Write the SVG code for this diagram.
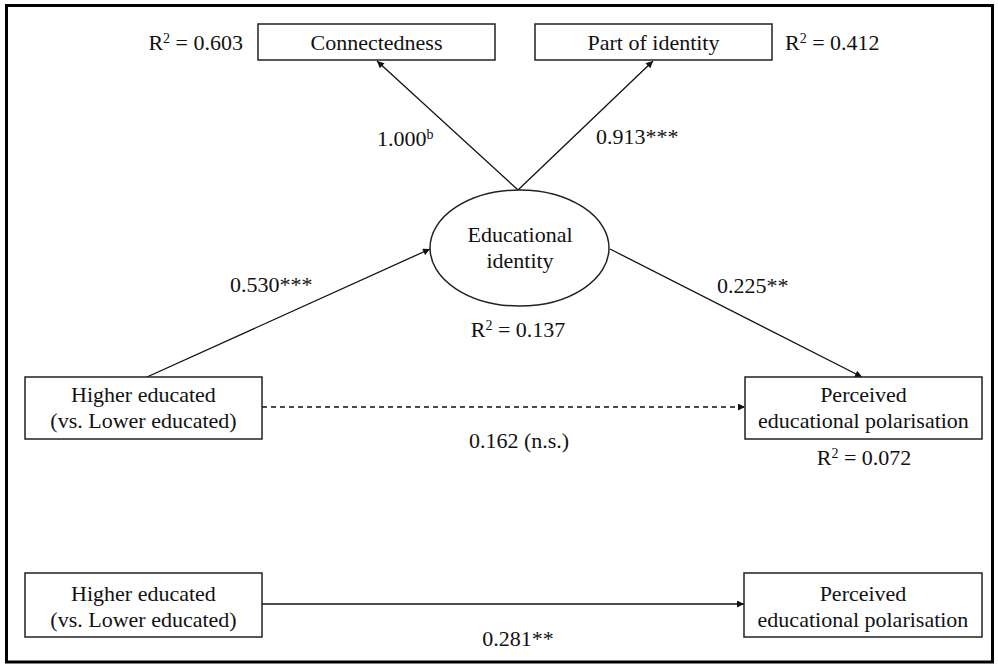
<svg xmlns="http://www.w3.org/2000/svg" width="998" height="664" viewBox="0 0 998 664">
<defs>
<style>
text{font-family:"Liberation Serif","Times New Roman",serif;font-size:22px;fill:#111}
.m{text-anchor:middle}
.e{text-anchor:end}
.sup{font-size:14px}
.box{fill:#fff;stroke:#222;stroke-width:1.5}
.c{stroke:#111;stroke-width:1.3;fill:none;marker-end:url(#ah)}
.d{stroke-dasharray:5,4}
</style>
<marker id="ah" viewBox="0 0 10 10" refX="10" refY="5" markerWidth="9" markerHeight="7" markerUnits="userSpaceOnUse" orient="auto">
<path d="M0,0 L10,5 L0,10 Z" fill="#111"/>
</marker>
</defs>
<rect x="0" y="0" width="998" height="664" fill="#fff"/>
<rect x="6.5" y="5.5" width="986" height="656.5" fill="none" stroke="#000" stroke-width="3"/>

<g id="connectors">
<line class="c" x1="518" y1="190" x2="377" y2="61"/>
<line class="c" x1="518" y1="190" x2="653" y2="61"/>
<line class="c" x1="147" y1="377" x2="430" y2="249"/>
<line class="c" x1="610" y1="249" x2="862" y2="377"/>
<line class="c d" x1="262" y1="407" x2="745" y2="407"/>
<line class="c" x1="262" y1="604" x2="744" y2="604"/>
</g>

<g id="labels">
<text x="377" y="146">1.000<tspan class="sup" dy="-7">b</tspan></text>
<text x="596" y="144">0.913***</text>
<text x="230" y="292">0.530***</text>
<text x="717" y="293">0.225**</text>
<text class="m" x="519" y="448">0.162 (n.s.)</text>
<text class="m" x="518" y="646">0.281**</text>
</g>

<g id="connectedness">
<rect class="box" x="258" y="24" width="237" height="36"/>
<text class="m" x="376.5" y="50">Connectedness</text>
<text class="e" x="243" y="50">R<tspan class="sup" dy="-7">2</tspan><tspan dy="7"> = 0.603</tspan></text>
</g>

<g id="part-of-identity">
<rect class="box" x="535" y="24" width="237" height="36"/>
<text class="m" x="653.5" y="50">Part of identity</text>
<text x="785" y="50">R<tspan class="sup" dy="-7">2</tspan><tspan dy="7"> = 0.412</tspan></text>
</g>

<g id="educational-identity">
<ellipse cx="519.5" cy="248" rx="89.5" ry="58" fill="#fff" stroke="#222" stroke-width="1.5"/>
<text class="m" x="520" y="242">Educational</text>
<text class="m" x="520" y="268">identity</text>
<text class="m" x="518" y="337">R<tspan class="sup" dy="-7">2</tspan><tspan dy="7"> = 0.137</tspan></text>
</g>

<g id="higher-educated">
<rect class="box" x="25" y="377" width="237" height="62"/>
<text class="m" x="143.5" y="402">Higher educated</text>
<text class="m" x="143.5" y="428">(vs. Lower educated)</text>
</g>

<g id="perceived-polarisation">
<rect class="box" x="745" y="377" width="237" height="62"/>
<text class="m" x="863.5" y="402">Perceived</text>
<text class="m" x="863.5" y="428">educational polarisation</text>
<text class="m" x="864" y="465">R<tspan class="sup" dy="-7">2</tspan><tspan dy="7"> = 0.072</tspan></text>
</g>

<g id="higher-educated-2">
<rect class="box" x="25" y="573" width="237" height="64"/>
<text class="m" x="143.5" y="601">Higher educated</text>
<text class="m" x="143.5" y="627">(vs. Lower educated)</text>
</g>

<g id="perceived-polarisation-2">
<rect class="box" x="744" y="573" width="238" height="64"/>
<text class="m" x="863" y="601">Perceived</text>
<text class="m" x="863" y="627">educational polarisation</text>
</g>
</svg>
